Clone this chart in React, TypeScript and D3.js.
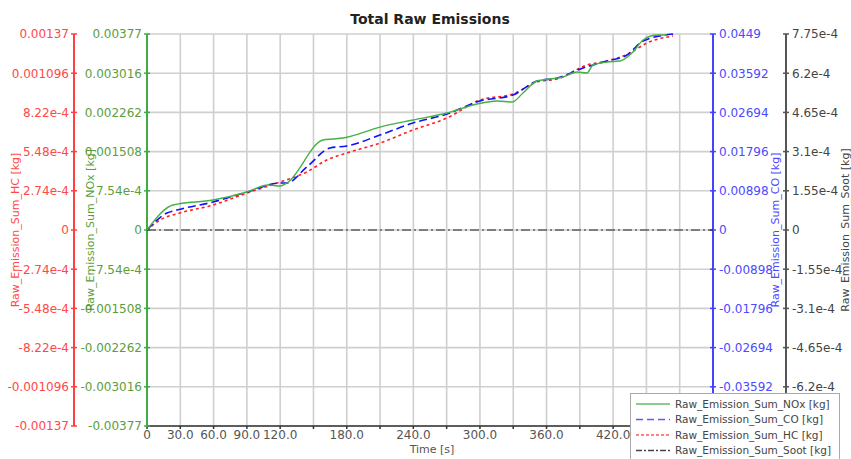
import React, { useEffect, useRef } from 'react';
import * as d3 from 'd3';

// time axis [s]
const xTickValues = [0, 30, 60, 90, 120, 150, 180, 210, 240, 270, 300, 330, 360, 390, 420, 450, 480, 510];
const xTickLabels = ['0', '30.0', '60.0', '90.0', '120.0', '', '180.0', '', '240.0', '', '300.0', '', '360.0', '', '420.0', '', '480.0', ''];

// axis tick labels (top to bottom)
const hcTicks = ['0.00137', '0.001096', '8.22e-4', '5.48e-4', '2.74e-4', '0', '-2.74e-4', '-5.48e-4', '-8.22e-4', '-0.001096', '-0.00137'];
const noxTicks = ['0.00377', '0.003016', '0.002262', '0.001508', '7.54e-4', '0', '-7.54e-4', '-0.001508', '-0.002262', '-0.003016', '-0.00377'];
const coTicks = ['0.0449', '0.03592', '0.02694', '0.01796', '0.00898', '0', '-0.00898', '-0.01796', '-0.02694', '-0.03592', '-0.0449'];
const sootTicks = ['7.75e-4', '6.2e-4', '4.65e-4', '3.1e-4', '1.55e-4', '0', '-1.55e-4', '-3.1e-4', '-4.65e-4', '-6.2e-4', '-7.75e-4'];

// series
const noxTime = [0, 23.4, 59.5, 90.1, 109, 120, 126, 158.6, 167.6, 176.6, 210, 239.7, 270.3, 297.4, 315.4, 329, 338.8, 351.4, 363.1, 374.9, 387.5, 396.5, 401.9, 414.5, 426.2, 437.9, 447, 459.6, 468.6];
const noxValues = [0, 4.81e-4, 5.77e-4, 7.31e-4, 8.66e-4, 8.46e-4, 9.04e-4, 0.001731, 0.00175, 0.00177, 0.00198, 0.002116, 0.00225, 0.002424, 0.002481, 0.002462, 0.002635, 0.002866, 0.002904, 0.002943, 0.003039, 0.00302, 0.003174, 0.003231, 0.003251, 0.003424, 0.003655, 0.00375, 0.00375];

const coTime = [0, 18, 27, 59.5, 90.1, 120, 126, 144, 165, 180, 210, 239.7, 270.3, 300, 329.8, 351.4, 369.5, 392.9, 414.5, 432.5, 447, 474];
const coValues = [0, 0.003894, 0.004582, 0.006414, 0.008705, 0.010767, 0.010767, 0.014432, 0.018785, 0.019243, 0.021763, 0.024512, 0.026574, 0.029552, 0.030926, 0.034133, 0.034821, 0.037111, 0.038715, 0.040089, 0.043296, 0.0449];

const hcTime = [0, 11.7, 29.7, 59.5, 90.1, 120, 144, 162, 180, 210, 239.7, 270.3, 300, 329.8, 351.4, 369.5, 396.5, 414.5, 435.2, 450.5, 474];
const hcValues = [0, 6.99e-5, 1.188e-4, 1.747e-4, 2.586e-4, 3.355e-4, 4.054e-4, 4.893e-4, 5.382e-4, 6.081e-4, 6.99e-4, 7.829e-4, 9.087e-4, 9.506e-4, 0.0010345, 0.0010554, 0.0011533, 0.0011813, 0.0012372, 0.0013071, 0.001356];

const sootTime = [0, 510];
const sootValues = [0, 0];

const legendNames = ['Raw_Emission_Sum_NOx [kg]', 'Raw_Emission_Sum_CO [kg]', 'Raw_Emission_Sum_HC [kg]', 'Raw_Emission_Sum_Soot [kg]'];

const FONT = '"DejaVu Sans", Verdana, sans-serif';

const App = () => {
  const ref = useRef<SVGSVGElement>(null);
  useEffect(() => {
    document.body.style.margin = '0';
    d3.select(ref.current).selectAll('*').remove();
    draw(ref.current);
  }, []);
  return <svg ref={ref} width={851} height={459} style={{ display: 'block', background: '#fff' }} />;
};

const draw = (node) => {
  const svg = d3.select(node).attr('font-family', FONT);
  const left = 147, right = 713, top = 34, bottom = 426;
  // legend box, labels falling under it are hidden in the original
  const lgBox = { x: 630, y: 393, w: 209, h: 80 };
  const underLegend = (px, py) => px > lgBox.x - 10 && py > lgBox.y;

  const x = d3.scaleLinear().domain([0, 510]).range([left, right]);
  const yHC = d3.scaleLinear().domain([-0.00137, 0.00137]).range([bottom, top]);
  const yNOx = d3.scaleLinear().domain([-0.00377, 0.00377]).range([bottom, top]);
  const yCO = d3.scaleLinear().domain([-0.0449, 0.0449]).range([bottom, top]);
  const ySoot = d3.scaleLinear().domain([-7.75e-4, 7.75e-4]).range([bottom, top]);

  // grid
  const grid = svg.append('g').attr('stroke', '#cfcfcf').attr('stroke-width', 1.6);
  xTickValues.forEach(t => {
    grid.append('line').attr('x1', x(t)).attr('x2', x(t)).attr('y1', top).attr('y2', bottom);
  });
  noxTicks.forEach(s => {
    const yy = yNOx(+s);
    grid.append('line').attr('x1', left).attr('x2', right).attr('y1', yy).attr('y2', yy);
  });

  // title
  svg.append('text').attr('x', 430).attr('y', 24).attr('text-anchor', 'middle')
    .attr('font-size', 14).attr('font-weight', 'bold').attr('fill', '#222').text('Total Raw Emissions');

  // x axis
  const xg = svg.append('g');
  xg.append('line').attr('x1', left).attr('x2', right).attr('y1', bottom).attr('y2', bottom)
    .attr('stroke', '#333').attr('stroke-width', 1.5);
  xTickValues.forEach((t, i) => {
    xg.append('line').attr('x1', x(t)).attr('x2', x(t)).attr('y1', bottom).attr('y2', bottom + 3)
      .attr('stroke', '#333').attr('stroke-width', 1.5);
    if (xTickLabels[i] && !underLegend(x(t), 439)) {
      xg.append('text').attr('x', x(t)).attr('y', 439).attr('text-anchor', 'middle')
        .attr('font-size', 12).attr('fill', '#555').text(xTickLabels[i]);
    }
  });
  svg.append('text').attr('x', 432).attr('y', 453).attr('text-anchor', 'middle')
    .attr('font-size', 11).attr('fill', '#555').text('Time [s]');

  // y axes
  const yAxis = (scale, ticks, ax, side, stroke, fill, title, titleX) => {
    const g = svg.append('g');
    g.append('line').attr('x1', ax).attr('x2', ax).attr('y1', top).attr('y2', bottom)
      .attr('stroke', stroke).attr('stroke-width', 2);
    ticks.forEach(s => {
      const yy = scale(+s);
      g.append('line').attr('x1', ax - 3).attr('x2', ax + 3).attr('y1', yy).attr('y2', yy)
        .attr('stroke', stroke).attr('stroke-width', 1.5);
      const tx = side < 0 ? ax - 5 : ax + 6;
      if (underLegend(tx + 20, yy)) return;
      g.append('text').attr('x', tx).attr('y', yy).attr('dy', '0.36em')
        .attr('text-anchor', side < 0 ? 'end' : 'start').attr('font-size', 12).attr('fill', fill).text(s);
    });
    g.append('text').attr('transform', `translate(${titleX},230) rotate(-90)`).attr('text-anchor', 'middle')
      .attr('dy', '0.35em').attr('font-size', 11).attr('fill', fill).text(title);
  };
  yAxis(yHC, hcTicks, 74, -1, '#ff4040', '#ff4848', 'Raw_Emission_Sum_HC [kg]', 15);
  yAxis(yNOx, noxTicks, 147, -1, '#44aa44', '#5c9e3c', 'Raw_Emission_Sum_NOx [kg]', 90);
  yAxis(yCO, coTicks, 713, 1, '#4444ff', '#4a4aff', 'Raw_Emission_Sum_CO [kg]', 775);
  yAxis(ySoot, sootTicks, 786, 1, '#555', '#444', 'Raw_Emission_Sum_Soot [kg]', 845);

  // series
  const series = [
    { t: sootTime, v: sootValues, y: ySoot, color: '#222', dash: '9,3,2,3', w: 1 },
    { t: hcTime, v: hcValues, y: yHC, color: '#ff2020', dash: '3,3', w: 1.6 },
    { t: coTime, v: coValues, y: yCO, color: '#1010ff', dash: '8,4', w: 1.6 },
    { t: noxTime, v: noxValues, y: yNOx, color: '#45b045', dash: null, w: 1.4 },
  ];
  series.forEach(s => {
    const line = d3.line<number>()
      .x((d, i) => x(s.t[i]))
      .y(d => s.y(d))
      .curve(d3.curveMonotoneX);
    svg.append('path').datum(s.v).attr('fill', 'none').attr('stroke', s.color)
      .attr('stroke-width', s.w).attr('stroke-dasharray', s.dash).attr('d', line);
  });

  // legend
  const lg = svg.append('g');
  lg.append('rect').attr('x', lgBox.x + 0.5).attr('y', lgBox.y + 0.5).attr('width', lgBox.w).attr('height', lgBox.h)
    .attr('fill', '#fff').attr('stroke', '#aaa');
  const legendStyle = [
    { color: '#66bb66', dash: null },
    { color: '#5a5aff', dash: '7,4' },
    { color: '#ff5a5a', dash: '3,2' },
    { color: '#444', dash: '6,2,2,2' },
  ];
  legendNames.forEach((name, i) => {
    const yy = 404 + i * 15.5;
    lg.append('line').attr('x1', 636).attr('x2', 670).attr('y1', yy).attr('y2', yy)
      .attr('stroke', legendStyle[i].color).attr('stroke-width', 1.4).attr('stroke-dasharray', legendStyle[i].dash);
    lg.append('text').attr('x', 675).attr('y', yy).attr('dy', '0.35em').attr('font-size', 10.5)
      .attr('fill', '#444').text(name);
  });
};

export default App;
